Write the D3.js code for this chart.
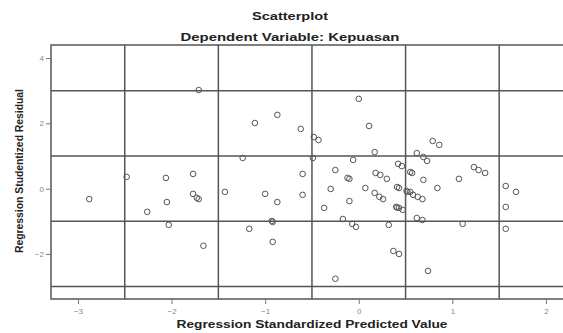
<!DOCTYPE html>
<html>
<head>
<meta charset="utf-8">
<script src="https://cdn.jsdelivr.net/npm/d3@7"></script>
<style>
  html, body { margin: 0; padding: 0; background: #fff; }
  svg { display: block; font-family: "Liberation Sans", Arial, sans-serif; }
</style>
</head>
<body>
<div id="chart"></div>
<script>
// Regression Standardized Predicted Value (x) vs Studentized Residual (y)
const predicted = [
  -2.88, -2.48, -2.06, -1.77, -1.77, -1.73, -1.71, -2.05, -2.26, -2.03,
  -1.66, -1.43, -1.71, -1.11, -0.87, -0.62, -0.48, -0.43, -1.24, -0.49,
  -0.06, -0.25, -0.60, -0.12, -0.10, 0.00, -1.00, -0.87, -0.60, -0.30,
  -0.10, -0.37, -0.93, -0.92, -1.17, -0.92, -0.17, -0.07, -0.03, -0.25,
  0.11, 0.17, 0.79, 0.86, 0.62, 0.69, 0.73, 0.42, 0.46, 0.55,
  0.57, 0.18, 0.23, 0.30, 0.69, 0.84, 1.07, 0.07, 0.17, 0.22,
  0.26, 0.41, 0.43, 0.51, 0.52, 0.55, 0.58, 0.63, 0.68, 0.40,
  0.41, 0.43, 0.47, 0.62, 0.68, 0.32, 1.23, 1.28, 1.35, 1.11,
  1.57, 1.68, 1.57, 1.57, 0.37, 0.43, 0.74
];
const residual = [
  -0.32, 0.36, 0.33, 0.45, -0.16, -0.28, -0.32, -0.41, -0.71, -1.11,
  -1.75, -0.10, 3.02, 2.01, 2.26, 1.83, 1.58, 1.49, 0.94, 0.94,
  0.88, 0.57, 0.45, 0.33, 0.30, 2.75, -0.16, -0.41, -0.19, -0.01,
  -0.38, -0.59, -0.99, -1.02, -1.23, -1.63, -0.93, -1.08, -1.17, -2.76,
  1.92, 1.12, 1.46, 1.34, 1.09, 0.97, 0.85, 0.76, 0.69, 0.51,
  0.48, 0.48, 0.42, 0.30, 0.27, 0.02, 0.30, 0.02, -0.13, -0.25,
  -0.32, 0.05, 0.02, -0.07, -0.10, -0.10, -0.19, -0.25, -0.32, -0.56,
  -0.58, -0.59, -0.65, -0.90, -0.96, -1.11, 0.66, 0.57, 0.48, -1.08,
  0.08, -0.10, -0.56, -1.23, -1.91, -2.00, -2.52
];

const xTicks = [-3, -2, -1, 0, 1, 2];
const yTicks = [-2, 0, 2, 4];
const xGrid = [-2.5, -1.5, -0.5, 0.5, 1.5];
const yGrid = [3, 1, -1, -3];

const title = 'Scatterplot';
const subtitle = 'Dependent Variable: Kepuasan';
const xLabel = 'Regression Standardized Predicted Value';
const yLabel = 'Regression Studentized Residual';

const width = 563;
const height = 333;
const plot = { left: 51, top: 45, right: 566, bottom: 299 };

const points = predicted.map((p, i) => ({ x: p, y: residual[i] }));

const svg = d3.select('#chart')
  .append('svg')
  .attr('width', width)
  .attr('height', height);

const x = d3.scaleLinear()
  .domain([-3.288, 2.214])
  .range([plot.left, plot.right]);

const y = d3.scaleLinear()
  .domain([-3.38, 4.4])
  .range([plot.bottom, plot.top]);

const lineColor = '#555';

// Grid / reference lines
svg.append('g')
  .selectAll('line')
  .data(xGrid)
  .join('line')
  .attr('x1', d => x(d)).attr('x2', d => x(d))
  .attr('y1', plot.top).attr('y2', plot.bottom)
  .attr('stroke', lineColor)
  .attr('stroke-width', 1.5);

svg.append('g')
  .selectAll('line')
  .data(yGrid)
  .join('line')
  .attr('y1', d => y(d)).attr('y2', d => y(d))
  .attr('x1', plot.left).attr('x2', plot.right)
  .attr('stroke', lineColor)
  .attr('stroke-width', 1.5);

// Frame
svg.append('rect')
  .attr('x', plot.left)
  .attr('y', plot.top)
  .attr('width', plot.right - plot.left)
  .attr('height', plot.bottom - plot.top)
  .attr('fill', 'none')
  .attr('stroke', lineColor)
  .attr('stroke-width', 1.5);

// Axes
const xAxis = svg.append('g')
  .attr('transform', `translate(0,${plot.bottom})`)
  .call(d3.axisBottom(x).tickValues(xTicks).tickSize(5).tickFormat(d3.format('d')));

const yAxis = svg.append('g')
  .attr('transform', `translate(${plot.left},0)`)
  .call(d3.axisLeft(y).tickValues(yTicks).tickSize(5).tickFormat(d3.format('d')));

[xAxis, yAxis].forEach(a => {
  a.select('.domain').remove();
  a.selectAll('.tick line').attr('stroke', '#777');
  a.selectAll('.tick text')
    .attr('fill', '#888')
    .attr('font-size', 8)
    .attr('font-family', '"Liberation Sans", Arial, sans-serif');
});
xAxis.selectAll('.tick text').attr('dy', '0.9em');
yAxis.selectAll('.tick text').attr('x', -7);

// Points
svg.append('g')
  .selectAll('circle')
  .data(points)
  .join('circle')
  .attr('cx', d => x(d.x))
  .attr('cy', d => y(d.y))
  .attr('r', 2.8)
  .attr('fill', 'none')
  .attr('stroke', '#555')
  .attr('stroke-width', 1);

// Titles (wide bold face, stretched to the reference widths)
function label(txt, tx, ty, size, len, rotate) {
  return svg.append('text')
    .attr('transform', `translate(${tx},${ty})` + (rotate ? ' rotate(-90)' : ''))
    .attr('text-anchor', 'middle')
    .attr('font-size', size)
    .attr('font-weight', 'bold')
    .attr('fill', '#222')
    .attr('textLength', len)
    .attr('lengthAdjust', 'spacingAndGlyphs')
    .text(txt);
}

label(title, 290, 20, 11, 76);
label(subtitle, 290, 41, 11, 219);
label(xLabel, 312, 328, 10.5, 271);
label(yLabel, 23, 171, 10, 164, true);
</script>
</body>
</html>
